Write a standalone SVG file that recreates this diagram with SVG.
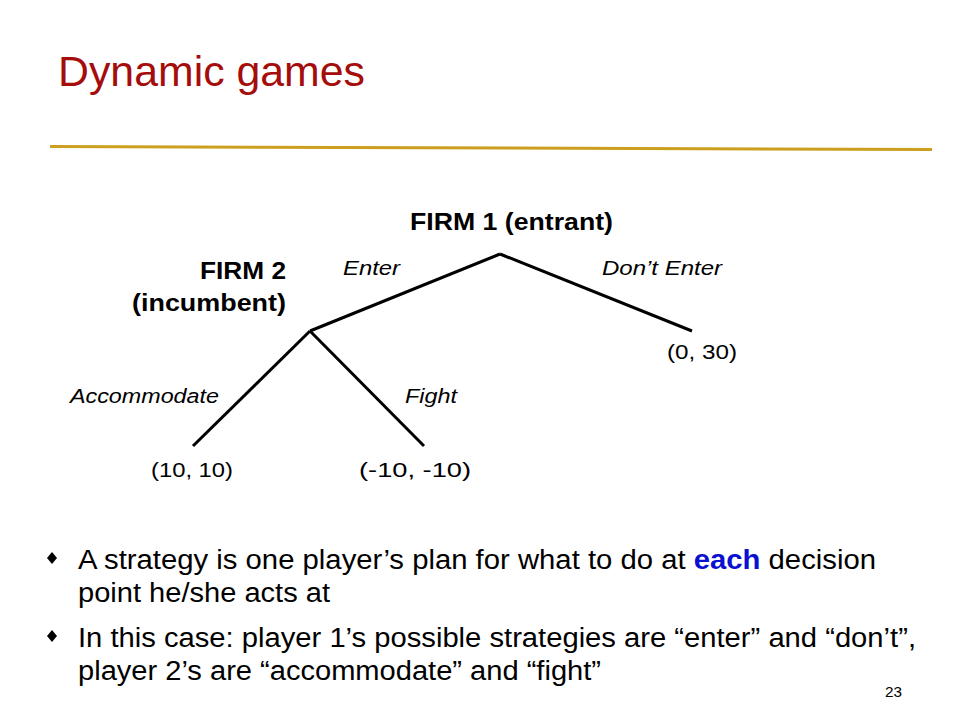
<svg xmlns="http://www.w3.org/2000/svg" width="960" height="720" viewBox="0 0 960 720">
<style>
text{font-family:"Liberation Sans",Arial,sans-serif;fill:#000}
.title{font-size:42px;fill:#a50d0d}
.firm{font-size:23px;font-weight:bold}
.lab{font-size:20px;font-style:italic}
.pay{font-size:21px}
.bul{font-size:27px}
.edge{stroke:#000;stroke-width:3;fill:none;stroke-linecap:butt}
</style>
<rect width="960" height="720" fill="#fff"/>
<text class="title" x="58" y="86" textLength="307" lengthAdjust="spacingAndGlyphs">Dynamic games</text>
<polygon points="50,145 932,148 932,151 50,148" fill="#cc9f1f"/>
<g id="connectors">
<line class="edge" x1="500" y1="254" x2="310" y2="331"/>
<line class="edge" x1="500" y1="254" x2="692" y2="331"/>
<line class="edge" x1="310" y1="331" x2="193" y2="446"/>
<line class="edge" x1="310" y1="331" x2="424" y2="446"/>
<text class="lab" x="343" y="275" textLength="57" lengthAdjust="spacingAndGlyphs">Enter</text>
<text class="lab" x="602" y="275" textLength="120" lengthAdjust="spacingAndGlyphs">Don’t Enter</text>
<text class="lab" x="70" y="403" textLength="149" lengthAdjust="spacingAndGlyphs">Accommodate</text>
<text class="lab" x="405" y="403" textLength="52" lengthAdjust="spacingAndGlyphs">Fight</text>
</g>
<g id="firm1">
<text class="firm" x="410" y="230" textLength="203" lengthAdjust="spacingAndGlyphs">FIRM 1 (entrant)</text>
</g>
<g id="firm2">
<text class="firm" x="200" y="279" textLength="86" lengthAdjust="spacingAndGlyphs">FIRM 2</text>
<text class="firm" x="132" y="311" textLength="154" lengthAdjust="spacingAndGlyphs">(incumbent)</text>
</g>
<g id="payoff-dont">
<text class="pay" x="667" y="359" textLength="70" lengthAdjust="spacingAndGlyphs">(0, 30)</text>
</g>
<g id="payoff-acc">
<text class="pay" x="151" y="477" textLength="82" lengthAdjust="spacingAndGlyphs">(10, 10)</text>
</g>
<g id="payoff-fight">
<text class="pay" x="359" y="477" textLength="112" lengthAdjust="spacingAndGlyphs">(-10, -10)</text>
</g>
<g id="bullets">
<polygon points="52,552 57,558 52,564 47,558" fill="#000"/>
<text class="bul" x="78" y="569" textLength="798" lengthAdjust="spacingAndGlyphs">A strategy is one player’s plan for what to do at <tspan font-weight="bold" style="fill:#0a10d0">each</tspan> decision</text>
<text class="bul" x="78" y="602" textLength="252" lengthAdjust="spacingAndGlyphs">point he/she acts at</text>
<polygon points="52,630 57,636 52,642 47,636" fill="#000"/>
<text class="bul" x="78" y="647" textLength="838" lengthAdjust="spacingAndGlyphs">In this case: player 1’s possible strategies are “enter” and “don’t”,</text>
<text class="bul" x="78" y="680" textLength="523" lengthAdjust="spacingAndGlyphs">player 2’s are “accommodate” and “fight”</text>
<text x="885" y="697" style="font-size:14px" textLength="17" lengthAdjust="spacingAndGlyphs">23</text>
</g>
</svg>
